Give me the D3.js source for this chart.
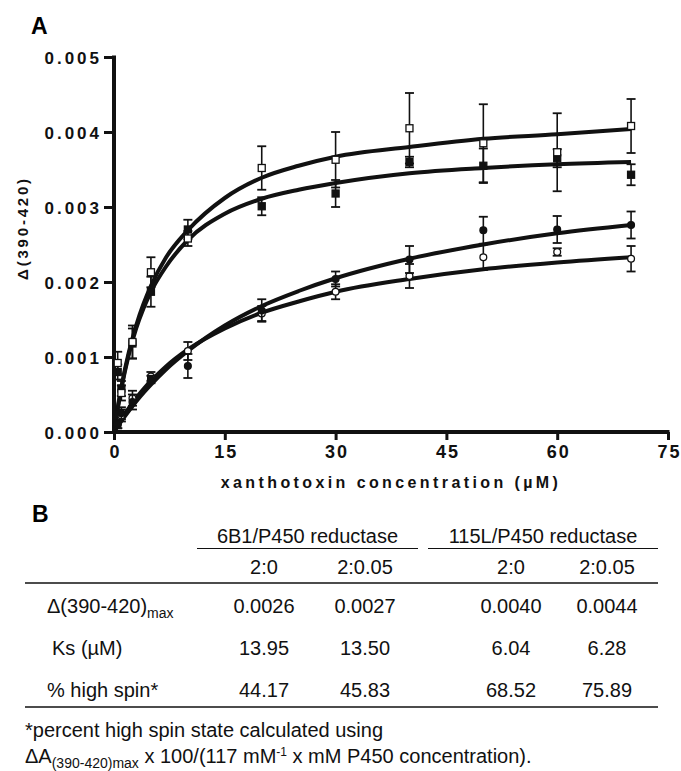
<!DOCTYPE html>
<html>
<head>
<meta charset="utf-8">
<script src="https://cdn.jsdelivr.net/npm/d3@7"></script>
<style>
body { margin: 0; background: #fff; }
svg { display: block; }
.tick-lbl { font-family: "Liberation Sans", Arial, sans-serif; font-weight: bold; letter-spacing: 3px; fill: #111; }
.tbl { font-family: "Liberation Sans", Arial, sans-serif; font-size: 20px; fill: #111; }
</style>
</head>
<body>
<svg id="fig" width="681" height="771"></svg>
<script>
// concentrations (uM) of measured points
var conc = [0.5, 1, 2.5, 5, 10, 20, 30, 40, 50, 60, 70];

// 115L/P450 reductase 2:0.05 (open squares)
var openSq    = [0.00092, 0.00052, 0.0012, 0.00213, 0.00258, 0.00352, 0.00363, 0.00405, 0.00385, 0.00373, 0.00408];
var openSqErr = [0.00015, 0.0001, 0.00022, 0.0002, 0.0001, 0.00029, 0.00037, 0.00047, 0.00052, 0.00052, 0.00036];
// 115L/P450 reductase 2:0 (filled squares)
var fillSq    = [0.0008, 0.00058, 0.00118, 0.00187, 0.0027, 0.00301, 0.00318, 0.0036, 0.00355, 0.00365, 0.00343];
var fillSqErr = [0.0001, 0.0001, 0.0002, 0.0002, 0.00013, 0.00012, 0.00018, 0.00007, 0.00023, 0.00012, 0.00014];
// 6B1/P450 reductase (filled circles)
var fillCi    = [0.0001, 0.00025, 0.0004, 0.0007, 0.00088, 0.00162, 0.00204, 0.0023, 0.00269, 0.0027, 0.00276];
var fillCiErr = [0.00005, 0.00008, 0.0001, 0.00005, 0.00016, 0.00015, 0.0001, 0.00018, 0.00018, 0.00018, 0.00018];
// 6B1/P450 reductase (open circles)
var openCi    = [0.0001, 0.00022, 0.00045, 0.00074, 0.00108, 0.00158, 0.00187, 0.00208, 0.00233, 0.0024, 0.00231];
var openCiErr = [0.00005, 0.00008, 0.0001, 0.00006, 0.00012, 0.0001, 0.0001, 0.00016, 0.00017, 0.00005, 0.00017];

// fitted curves
var fitX        = [0, 0.5, 1, 2, 3, 4, 5, 7, 10, 15, 20, 25, 30, 40, 50, 60, 70];
var fitOpenSq   = [0, 0.00032, 0.0006, 0.00106, 0.00142, 0.00171, 0.00195, 0.00232, 0.00269, 0.00312, 0.00339, 0.00355, 0.00367, 0.0038, 0.00391, 0.00397, 0.00404];
var fitFillSq   = [0, 0.00031, 0.00058, 0.00103, 0.00138, 0.00165, 0.00187, 0.0022, 0.00256, 0.00291, 0.00311, 0.00323, 0.00332, 0.00345, 0.00352, 0.00357, 0.0036];
var fitFillCi   = [0, 0.000075, 0.000146, 0.00028, 0.000407, 0.000524, 0.000632, 0.00083, 0.00108, 0.00142, 0.00168, 0.00188, 0.00205, 0.00231, 0.0025, 0.00265, 0.00276];
var fitOpenCi   = [0, 0.000087, 0.000168, 0.000318, 0.000452, 0.000572, 0.00068, 0.00087, 0.0011, 0.00138, 0.00159, 0.00174, 0.00187, 0.00204, 0.00217, 0.00226, 0.00233];

var xTicks = [0, 15, 30, 45, 60, 75];
var yTicks = [0, 0.001, 0.002, 0.003, 0.004, 0.005];

// table B
var groupHeads = ["6B1/P450 reductase", "115L/P450 reductase"];
var subHeads = ["2:0", "2:0.05", "2:0", "2:0.05"];
var rowLabels = ["Ks (\u00b5M)", "% high spin*"];
var deltaMax = ["0.0026", "0.0027", "0.0040", "0.0044"];
var ksVals = ["13.95", "13.50", "6.04", "6.28"];
var spinVals = ["44.17", "45.83", "68.52", "75.89"];

var svg = d3.select('#fig');

var x = d3.scaleLinear().domain([0, 75]).range([114, 668]);
var y = d3.scaleLinear().domain([0, 0.005]).range([432, 57]);

// panel label
svg.append('text').attr('x', 31).attr('y', 34).text('A')
  .style('font-family', 'Liberation Sans, Arial').style('font-weight', 'bold').style('font-size', '23px');

// axes
var xAxis = svg.append('g').attr('transform', 'translate(0,432)')
  .call(d3.axisBottom(x).tickValues(xTicks).tickSize(8).tickPadding(5));
var yAxis = svg.append('g').attr('transform', 'translate(114,0)')
  .call(d3.axisLeft(y).tickValues(yTicks).tickSize(10).tickPadding(2).tickFormat(d3.format('.3f')));

[xAxis, yAxis].forEach(function(a) {
  a.select('.domain').attr('stroke', '#111').attr('stroke-width', 4);
  a.selectAll('.tick line').attr('stroke', '#111').attr('stroke-width', 3);
  a.selectAll('.tick text').attr('class', 'tick-lbl').attr('fill', '#111');
});
xAxis.selectAll('.tick text').style('font-size', '18px').style('letter-spacing', '2px').attr('dx', '1px');
yAxis.selectAll('.tick text').style('font-size', '17px').attr('dy', '0.36em');
yAxis.select('.domain').attr('d', 'M0,' + (y(0.005) - 1.5) + 'V' + (y(0) + 2));
xAxis.select('.domain').attr('d', 'M' + (x(0) - 2) + ',0H' + (x(75) + 1.5));

// axis titles
svg.append('text').attr('class', 'tick-lbl')
  .attr('x', (x(0) + x(75)) / 2).attr('y', 488)
  .attr('text-anchor', 'middle').style('font-size', '16px').style('letter-spacing', '3.4px')
  .text('xanthotoxin concentration (\u00b5M)');
svg.append('text').attr('class', 'tick-lbl')
  .attr('transform', 'translate(28,228) rotate(-90)')
  .attr('text-anchor', 'middle').style('font-size', '15px').style('letter-spacing', '2.8px')
  .text('\u0394(390-420)');

// fitted curves
var line = d3.line().x(function(d) { return x(d[0]); }).y(function(d) { return y(d[1]); }).curve(d3.curveMonotoneX);
[fitOpenSq, fitFillSq, fitFillCi, fitOpenCi].forEach(function(vals) {
  svg.append('path').datum(fitX.map(function(v, i) { return [v, vals[i]]; }))
    .attr('d', line).attr('fill', 'none').attr('stroke', '#111').attr('stroke-width', 4)
    .attr('stroke-linejoin', 'round');
});

// points with error bars
var series = [
  {vals: openCi, err: openCiErr, shape: 'circle', fill: '#fff'},
  {vals: fillCi, err: fillCiErr, shape: 'circle', fill: '#111'},
  {vals: fillSq, err: fillSqErr, shape: 'square', fill: '#111'},
  {vals: openSq, err: openSqErr, shape: 'square', fill: '#fff'}
];

series.forEach(function(s) {
  var pts = conc.map(function(c, i) { return {c: c, v: s.vals[i], e: s.err[i]}; });
  var g = svg.append('g');
  var eb = g.selectAll('g.eb').data(pts).enter().append('g').attr('class', 'eb');
  eb.append('line').attr('x1', function(d) { return x(d.c); }).attr('x2', function(d) { return x(d.c); })
    .attr('y1', function(d) { return y(d.v + d.e); }).attr('y2', function(d) { return y(d.v - d.e); })
    .attr('stroke', '#111').attr('stroke-width', 1.6);
  [1, -1].forEach(function(sg) {
    eb.append('line').attr('x1', function(d) { return x(d.c) - 4.5; }).attr('x2', function(d) { return x(d.c) + 4.5; })
      .attr('y1', function(d) { return y(d.v + sg * d.e); }).attr('y2', function(d) { return y(d.v + sg * d.e); })
      .attr('stroke', '#111').attr('stroke-width', 1.8);
  });
  if (s.shape === 'square') {
    g.selectAll('rect').data(pts).enter().append('rect')
      .attr('x', function(d) { return x(d.c) - 3.5; }).attr('y', function(d) { return y(d.v) - 3.5; })
      .attr('width', 7).attr('height', 7)
      .attr('fill', s.fill).attr('stroke', '#111').attr('stroke-width', 1.3);
  } else {
    g.selectAll('circle').data(pts).enter().append('circle')
      .attr('cx', function(d) { return x(d.c); }).attr('cy', function(d) { return y(d.v); })
      .attr('r', 3.4).attr('fill', s.fill).attr('stroke', '#111').attr('stroke-width', 1.3);
  }
});

// ---- panel B table ----
svg.append('text').attr('x', 32).attr('y', 522).text('B')
  .style('font-family', 'Liberation Sans, Arial').style('font-weight', 'bold').style('font-size', '23px');

var colX = [264, 365, 511, 607];
var groupSpan = [[197, 418], [428, 658]];

groupHeads.forEach(function(h, i) {
  var sp = groupSpan[i];
  svg.append('text').attr('class', 'tbl').attr('x', (sp[0] + sp[1]) / 2).attr('y', 543)
    .attr('text-anchor', 'middle').text(h);
  svg.append('line').attr('x1', sp[0]).attr('x2', sp[1]).attr('y1', 548.5).attr('y2', 548.5)
    .attr('stroke', '#111').attr('stroke-width', 1.2);
});
subHeads.forEach(function(h, i) {
  svg.append('text').attr('class', 'tbl').attr('x', colX[i]).attr('y', 574)
    .attr('text-anchor', 'middle').text(h);
});
svg.append('line').attr('x1', 25).attr('x2', 658).attr('y1', 583).attr('y2', 583)
  .attr('stroke', '#111').attr('stroke-width', 1.6);

// row 1 label with subscript
var r1 = svg.append('text').attr('class', 'tbl').attr('x', 47).attr('y', 613);
r1.append('tspan').text('\u0394(390-420)');
r1.append('tspan').attr('dy', 5).style('font-size', '14px').text('max');

var rows = [deltaMax, ksVals, spinVals];
var rowY = [613, 655, 697];
rows.forEach(function(vals, r) {
  vals.forEach(function(v, i) {
    svg.append('text').attr('class', 'tbl').attr('x', colX[i]).attr('y', rowY[r])
      .attr('text-anchor', 'middle').text(v);
  });
});
rowLabels.forEach(function(l, i) {
  svg.append('text').attr('class', 'tbl').attr('x', i === 0 ? 52 : 47).attr('y', rowY[i + 1]).text(l);
});
svg.append('line').attr('x1', 25).attr('x2', 658).attr('y1', 707).attr('y2', 707)
  .attr('stroke', '#111').attr('stroke-width', 1.6);

// footnote
svg.append('text').attr('class', 'tbl').attr('x', 25).attr('y', 737)
  .text('*percent high spin state calculated using');
var fn = svg.append('text').attr('class', 'tbl').attr('x', 25).attr('y', 763);
fn.append('tspan').text('\u0394A');
fn.append('tspan').attr('dy', 5).style('font-size', '14px').text('(390-420)max');
fn.append('tspan').attr('dy', -5).text(' x 100/(117 mM');
fn.append('tspan').attr('dy', -7).style('font-size', '12px').text('-1');
fn.append('tspan').attr('dy', 7).text(' x mM P450 concentration).');
</script>
</body>
</html>
